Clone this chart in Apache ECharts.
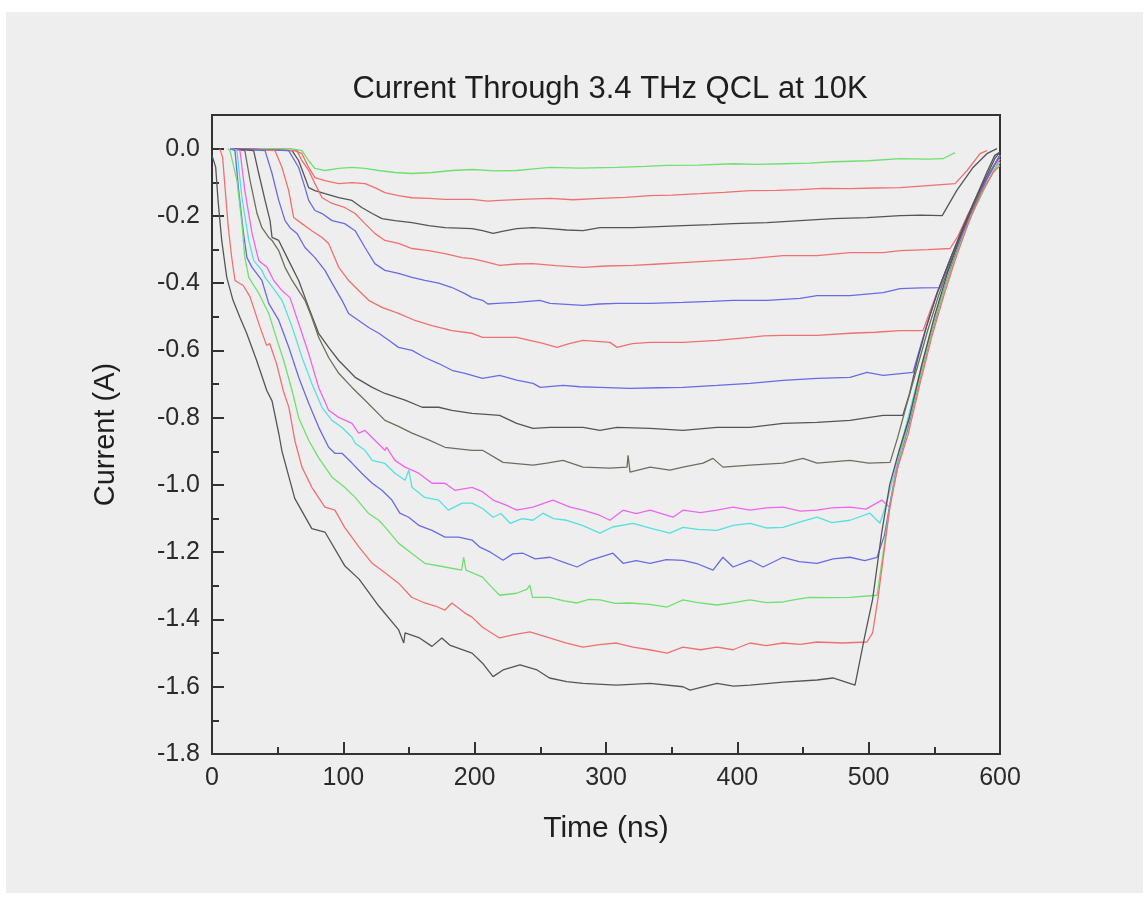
<!DOCTYPE html>
<html>
<head>
<meta charset="utf-8">
<script src="https://cdn.jsdelivr.net/npm/echarts@6/dist/echarts.min.js"></script>
<style>
html,body{margin:0;padding:0;background:#ffffff;}
#panel{position:absolute;left:6px;top:12px;width:1137px;height:881px;background:#eeeeee;}
#chart{position:absolute;left:0;top:0;width:1148px;height:897px;}
</style>
</head>
<body>
<div id="panel"></div>
<div id="chart"></div>
<script>
// ---- data: [time (ns), current (A)] ----
const titleText = 'Current Through 3.4 THz QCL at 10K';
const xName = 'Time (ns)';
const yName = 'Current (A)';
const xTicks = [0, 100, 200, 300, 400, 500, 600];
const yTicks = [-1.8, -1.6, -1.4, -1.2, -1.0, -0.8, -0.6, -0.4, -0.2, 0.0];

const curve01 = [[14,0],[60,0],[68.5,-0.006],[73.6,-0.036],[78.4,-0.059],[86,-0.065],[96.5,-0.059],[106.6,-0.056],[116.5,-0.059],[127,-0.065],[139.3,-0.071],[152.3,-0.074],[167.5,-0.071],[182.7,-0.065],[198,-0.062],[215,-0.066],[232,-0.065],[245,-0.060],[257.4,-0.056],[280,-0.058],[308.4,-0.056],[330,-0.053],[346.5,-0.050],[370,-0.049],[396.7,-0.045],[415,-0.047],[434.8,-0.045],[455,-0.043],[472.8,-0.039],[500,-0.036],[524,-0.030],[545,-0.031],[556.6,-0.030],[565.8,-0.012]];
const curve02 = [[14,0],[63,-0.006],[68.5,-0.015],[73.6,-0.056],[78.4,-0.086],[86,-0.095],[96.5,-0.104],[106.6,-0.101],[116.5,-0.104],[124,-0.116],[131.7,-0.131],[142,-0.140],[152.3,-0.146],[165,-0.148],[177.4,-0.151],[198,-0.151],[210,-0.156],[219,-0.154],[240,-0.150],[257.4,-0.148],[275,-0.152],[295.4,-0.148],[315,-0.145],[333.5,-0.140],[350,-0.138],[371.6,-0.134],[390,-0.130],[409.7,-0.125],[430,-0.124],[447.7,-0.122],[465,-0.118],[485.8,-0.119],[505,-0.117],[524,-0.116],[545,-0.110],[565.8,-0.104],[575,-0.065],[584.8,-0.015],[590,-0.006]];
const curve03 = [[14,0],[61,-0.006],[66,-0.036],[70.8,-0.086],[73.6,-0.116],[78.4,-0.125],[86,-0.134],[96.5,-0.146],[106.6,-0.154],[114,-0.175],[122,-0.193],[129.4,-0.208],[139.3,-0.214],[152.3,-0.220],[165,-0.229],[177.4,-0.235],[198,-0.238],[206,-0.244],[214,-0.252],[222,-0.245],[232,-0.238],[244.4,-0.235],[257.4,-0.238],[270,-0.242],[282.5,-0.244],[295.4,-0.235],[320.6,-0.235],[340,-0.232],[358.6,-0.229],[380,-0.226],[396.7,-0.223],[422.6,-0.220],[447.7,-0.214],[472.8,-0.208],[498.7,-0.205],[524,-0.199],[540,-0.198],[556,-0.199],[567,-0.125],[579.5,-0.056],[590,-0.015],[597.7,0]];
const curve04 = [[14,0],[64.7,-0.006],[68.5,-0.036],[73.6,-0.065],[78.4,-0.104],[83.8,-0.146],[91.4,-0.163],[101,-0.175],[109,-0.193],[116.5,-0.223],[124,-0.252],[131.7,-0.273],[142,-0.282],[152.3,-0.297],[165,-0.303],[177.4,-0.312],[190.4,-0.324],[198,-0.327],[208,-0.336],[219,-0.347],[232,-0.343],[244.4,-0.342],[262,-0.348],[282.5,-0.353],[300,-0.349],[320.6,-0.347],[340,-0.343],[358.6,-0.339],[384.5,-0.333],[409.7,-0.327],[434.8,-0.318],[460.7,-0.318],[485.8,-0.309],[511,-0.309],[524,-0.303],[545,-0.300],[562,-0.297],[568,-0.26],[575,-0.20],[583,-0.14],[591,-0.08],[597,-0.04],[600,-0.02]];
const curve05 = [[14,0],[58.4,-0.006],[66,-0.056],[70.8,-0.116],[73.6,-0.154],[78.4,-0.184],[83.8,-0.193],[91.4,-0.214],[101,-0.223],[109,-0.244],[116.5,-0.294],[124,-0.342],[131.7,-0.362],[142,-0.371],[152.3,-0.383],[162,-0.392],[172.6,-0.400],[182.7,-0.413],[192.6,-0.431],[198,-0.443],[206,-0.451],[210,-0.462],[217,-0.460],[232,-0.457],[249.7,-0.451],[257.4,-0.460],[270,-0.463],[282.5,-0.466],[295,-0.462],[308.4,-0.460],[333.5,-0.460],[358.6,-0.457],[380,-0.454],[396.7,-0.451],[422.6,-0.451],[447.7,-0.445],[460.7,-0.437],[485.8,-0.437],[511,-0.428],[524,-0.416],[540,-0.414],[554.3,-0.413],[559,-0.36],[566,-0.29],[574,-0.22],[583,-0.14],[591,-0.08],[597,-0.04],[600,-0.02]];
const curve06 = [[14,0],[48,-0.006],[53.3,-0.056],[58.4,-0.125],[62.2,-0.205],[68.5,-0.223],[76,-0.244],[83.8,-0.264],[88.8,-0.282],[96.5,-0.353],[104,-0.392],[111.7,-0.422],[119.3,-0.451],[129.4,-0.472],[142,-0.490],[154.6,-0.511],[167.5,-0.526],[182.7,-0.541],[198,-0.549],[206,-0.561],[232,-0.561],[242,-0.570],[252,-0.579],[262.7,-0.591],[272,-0.580],[282.5,-0.570],[303,-0.576],[308.4,-0.591],[320,-0.580],[333.5,-0.576],[358.6,-0.576],[384.5,-0.570],[409.7,-0.561],[420,-0.557],[434.8,-0.555],[460.7,-0.555],[485.8,-0.549],[505,-0.546],[523.9,-0.541],[541.4,-0.541],[548,-0.47],[555,-0.40],[563,-0.32],[572,-0.24],[581,-0.16],[590,-0.09],[597,-0.04],[600,-0.02]];
const curve07 = [[14,0],[40.4,-0.006],[45.7,-0.074],[50.8,-0.154],[55.6,-0.214],[59.4,-0.235],[64.7,-0.252],[70.8,-0.294],[78.4,-0.324],[86,-0.362],[91.4,-0.400],[99,-0.451],[104,-0.490],[111.7,-0.511],[119.3,-0.532],[127,-0.549],[134.6,-0.570],[142,-0.591],[152.3,-0.600],[162,-0.621],[172.6,-0.639],[182.7,-0.659],[192.6,-0.668],[206,-0.683],[219,-0.674],[232,-0.688],[244.4,-0.698],[250,-0.710],[267.3,-0.704],[280,-0.708],[295.4,-0.710],[318.3,-0.713],[340,-0.711],[358.6,-0.710],[384.5,-0.704],[409.7,-0.698],[434.8,-0.689],[460.7,-0.683],[485.8,-0.680],[498.7,-0.665],[511,-0.674],[533.8,-0.665],[540,-0.58],[547,-0.49],[555,-0.40],[563,-0.32],[572,-0.24],[581,-0.16],[590,-0.09],[597,-0.04],[600,-0.02]];
const curve08 = [[14,0],[31.7,-0.006],[35.6,-0.074],[40.4,-0.154],[44.2,-0.214],[45.7,-0.264],[50.8,-0.273],[58.4,-0.333],[66,-0.392],[73.6,-0.472],[81.2,-0.549],[88.8,-0.591],[96.5,-0.630],[109,-0.680],[122,-0.710],[131.7,-0.728],[147,-0.748],[160,-0.769],[172.6,-0.769],[182.7,-0.778],[198,-0.787],[219,-0.793],[232,-0.817],[244.4,-0.832],[257.4,-0.829],[282.5,-0.829],[295.4,-0.838],[308.4,-0.829],[333.5,-0.832],[358.6,-0.838],[384.5,-0.829],[409.7,-0.829],[434.8,-0.817],[460.7,-0.814],[485.8,-0.808],[511,-0.793],[526,-0.793],[531,-0.73],[537,-0.63],[544,-0.53],[552,-0.43],[561,-0.34],[570,-0.25],[580,-0.16],[590,-0.08],[596,-0.03],[600,-0.01]];
const curve09 = [[14,0],[25,-0.006],[29,-0.095],[34.3,-0.193],[38,-0.235],[43.2,-0.264],[45.7,-0.273],[50.8,-0.303],[55.6,-0.353],[61,-0.392],[66,-0.422],[70.8,-0.451],[76,-0.502],[81.2,-0.561],[88.8,-0.621],[96.5,-0.668],[106.6,-0.710],[116.5,-0.748],[131.7,-0.808],[142,-0.826],[152.3,-0.846],[165,-0.866],[177.4,-0.888],[198,-0.897],[206,-0.897],[221.6,-0.933],[244.4,-0.941],[255,-0.935],[267.3,-0.927],[282.5,-0.947],[303,-0.950],[316,-0.947],[316.8,-0.912],[318.3,-0.962],[333.5,-0.947],[348.7,-0.956],[358.6,-0.947],[373.9,-0.935],[381.5,-0.921],[389,-0.947],[409.7,-0.941],[434.8,-0.935],[450,-0.921],[460.7,-0.935],[485.8,-0.927],[500,-0.935],[516.3,-0.933],[522,-0.86],[529,-0.76],[537,-0.65],[545,-0.54],[553,-0.44],[562,-0.34],[571,-0.25],[581,-0.16],[590,-0.09],[597,-0.04],[600,-0.02]];
const curve10 = [[14,0],[21.3,-0.006],[25,-0.125],[30.5,-0.252],[35.6,-0.333],[41.9,-0.353],[47,-0.392],[53.3,-0.422],[59.4,-0.443],[66,-0.520],[73.6,-0.609],[81.2,-0.710],[88.8,-0.778],[96.5,-0.799],[106.6,-0.817],[111.7,-0.846],[116.5,-0.838],[124,-0.867],[131.7,-0.897],[133,-0.888],[139.3,-0.927],[147,-0.947],[157.4,-0.965],[167.5,-0.995],[177.4,-0.995],[185,-1.016],[198,-1.007],[206,-1.020],[214,-1.045],[224,-1.060],[232,-1.075],[244.4,-1.066],[259.6,-1.045],[272.6,-1.066],[282.5,-1.075],[295,-1.090],[303,-1.105],[313,-1.075],[323,-1.085],[333.5,-1.075],[351,-1.096],[358.6,-1.075],[372,-1.082],[384.5,-1.075],[396.7,-1.066],[409.7,-1.075],[422,-1.068],[434.8,-1.066],[448,-1.078],[460.7,-1.075],[472,-1.068],[485.8,-1.066],[498,-1.072],[510,-1.045],[516,-1.066],[520,-0.97],[527,-0.85],[535,-0.73],[543,-0.61],[552,-0.49],[560,-0.39],[569,-0.29],[579,-0.19],[589,-0.11],[596,-0.06],[600,-0.03]];
const curve11 = [[14,0],[19,-0.006],[22.8,-0.146],[28,-0.273],[31.8,-0.333],[38,-0.362],[40.4,-0.383],[48,-0.422],[53.3,-0.451],[61,-0.530],[68.5,-0.620],[76,-0.698],[83.8,-0.770],[91.4,-0.808],[99,-0.829],[106.6,-0.858],[109,-0.876],[116.5,-0.897],[122,-0.927],[131.7,-0.936],[139.3,-0.965],[147,-0.986],[149.8,-0.956],[152.3,-1.007],[162,-1.037],[172.6,-1.045],[180,-1.075],[190.4,-1.054],[198,-1.054],[206,-1.070],[214,-1.096],[220,-1.085],[227,-1.114],[236,-1.100],[244.4,-1.105],[252,-1.084],[260,-1.100],[270,-1.105],[282,-1.120],[295.4,-1.143],[305,-1.125],[320.6,-1.114],[335,-1.130],[348.7,-1.143],[358.6,-1.126],[370,-1.132],[384.5,-1.135],[397,-1.120],[409.7,-1.114],[422,-1.128],[434.8,-1.126],[448,-1.110],[460.7,-1.096],[472,-1.112],[485.8,-1.105],[501,-1.084],[508.6,-1.114],[514,-1.05],[519,-0.97],[526,-0.86],[534,-0.74],[542,-0.62],[551,-0.50],[559,-0.40],[568,-0.30],[578,-0.20],[588,-0.12],[596,-0.06],[600,-0.04]];
const curve12 = [[14,0],[17.5,-0.006],[20.3,-0.125],[24,-0.252],[26.6,-0.324],[30.5,-0.353],[38,-0.392],[43.2,-0.460],[50.8,-0.510],[58.4,-0.590],[66,-0.680],[73.6,-0.757],[81.2,-0.828],[88.8,-0.888],[93.6,-0.906],[99,-0.906],[106.6,-0.935],[114,-0.965],[122,-0.995],[129.4,-1.016],[137,-1.045],[143,-1.084],[149.8,-1.096],[157.4,-1.120],[167.5,-1.135],[177.4,-1.155],[187.8,-1.155],[198,-1.164],[204,-1.185],[212,-1.200],[221.6,-1.224],[229,-1.205],[236.8,-1.203],[246,-1.220],[257.4,-1.215],[268,-1.230],[278,-1.244],[287.8,-1.224],[305.3,-1.203],[313,-1.233],[323,-1.225],[333.5,-1.233],[346,-1.222],[358.6,-1.224],[370,-1.235],[381.5,-1.253],[389,-1.215],[396.7,-1.244],[409.7,-1.224],[419.6,-1.244],[434.8,-1.215],[447,-1.228],[460.7,-1.233],[473,-1.220],[485.8,-1.215],[497,-1.225],[506.4,-1.215],[512,-1.15],[517,-1.04],[523,-0.93],[530,-0.83],[538,-0.70],[547,-0.56],[555,-0.45],[563,-0.35],[572,-0.25],[582,-0.16],[591,-0.08],[597,-0.04],[600,-0.02]];
const curve13 = [[12,0],[13.7,-0.006],[19,-0.095],[22.8,-0.223],[25,-0.324],[28,-0.383],[35.6,-0.430],[43.2,-0.490],[48,-0.550],[54.6,-0.630],[61,-0.720],[66,-0.800],[73.6,-0.867],[81,-0.918],[91.4,-0.977],[101,-1.007],[109,-1.037],[119,-1.084],[127,-1.105],[132,-1.126],[142,-1.173],[152,-1.203],[162,-1.233],[177.4,-1.244],[190,-1.253],[191.6,-1.215],[193.4,-1.253],[206,-1.274],[212,-1.300],[219,-1.328],[232,-1.322],[240,-1.310],[242,-1.298],[244,-1.334],[257,-1.334],[268,-1.345],[278,-1.351],[287,-1.340],[295.4,-1.342],[307,-1.352],[318,-1.351],[333,-1.355],[346.5,-1.363],[358.6,-1.342],[370,-1.350],[384.5,-1.357],[397,-1.350],[409.7,-1.342],[422,-1.350],[434.8,-1.348],[445,-1.340],[455,-1.334],[470,-1.335],[485.8,-1.334],[506.4,-1.328],[510,-1.23],[514,-1.12],[519,-1.00],[526,-0.88],[534,-0.76],[543,-0.62],[551,-0.50],[560,-0.39],[569,-0.29],[578,-0.20],[588,-0.12],[596,-0.06],[600,-0.04]];
const curve14 = [[6,0],[8.1,-0.026],[9.9,-0.115],[12.4,-0.234],[15,-0.323],[17.5,-0.392],[23.8,-0.407],[28.9,-0.440],[36.5,-0.530],[41.6,-0.585],[44,-0.580],[49.2,-0.640],[54.3,-0.720],[58.6,-0.770],[63,-0.867],[68.5,-0.947],[76,-1.007],[86,-1.066],[93.6,-1.075],[101,-1.126],[112,-1.185],[122,-1.233],[132,-1.262],[142,-1.292],[152,-1.334],[162,-1.351],[170,-1.360],[177.4,-1.372],[182.7,-1.351],[192.6,-1.381],[198,-1.393],[206,-1.423],[219,-1.455],[230,-1.445],[242,-1.437],[257,-1.455],[270,-1.470],[282.5,-1.482],[295,-1.475],[308,-1.470],[320.6,-1.482],[333,-1.490],[346.5,-1.500],[358.6,-1.482],[372,-1.490],[384.5,-1.482],[396.7,-1.490],[409.7,-1.470],[422,-1.478],[434.8,-1.470],[448,-1.474],[460.7,-1.467],[480,-1.470],[498.7,-1.467],[503,-1.44],[507,-1.34],[511,-1.22],[516,-1.07],[522,-0.95],[530,-0.85],[539,-0.70],[548,-0.56],[557,-0.44],[566,-0.33],[576,-0.22],[586,-0.13],[595,-0.07],[600,-0.05]];
const curve15 = [[0,-0.02],[2.8,-0.055],[4.6,-0.154],[7.4,-0.273],[11.2,-0.382],[16,-0.451],[21.3,-0.502],[26.4,-0.549],[34,-0.630],[41.7,-0.719],[45.7,-0.750],[51,-0.850],[53.3,-0.900],[63,-1.040],[76,-1.130],[86,-1.140],[101,-1.240],[112,-1.280],[127,-1.360],[142,-1.430],[146,-1.470],[147,-1.440],[158,-1.455],[167.5,-1.480],[175,-1.455],[181,-1.476],[198,-1.500],[206,-1.530],[214,-1.570],[221.6,-1.550],[234.5,-1.535],[247.5,-1.550],[257,-1.574],[270,-1.585],[282.5,-1.590],[308,-1.595],[333.5,-1.590],[358.6,-1.600],[364,-1.610],[384.5,-1.590],[397,-1.598],[409.7,-1.595],[434.8,-1.586],[460.7,-1.580],[472.8,-1.574],[489.6,-1.595],[497,-1.45],[503,-1.34],[510,-1.14],[516,-1.00],[523,-0.90],[531,-0.80],[540,-0.65],[550,-0.50],[560,-0.37],[570,-0.26],[580,-0.16],[590,-0.07],[596,-0.02],[600,-0.01]];

const curves = [curve01, curve02, curve03, curve04, curve05, curve06, curve07, curve08, curve09, curve10, curve11, curve12, curve13, curve14, curve15];

// ---- styles ----
const C_GREEN = '#6ee06e', C_RED = '#f07070', C_BLACK = '#555555', C_BLUE = '#6a6ae6',
      C_OLIVE = '#6e6e5e', C_MAGENTA = '#ee66ee', C_CYAN = '#55e0e0';
const curveColors = [C_GREEN, C_RED, C_BLACK, C_RED, C_BLUE, C_RED, C_BLUE, C_BLACK, C_OLIVE, C_MAGENTA, C_CYAN, C_BLUE, C_GREEN, C_RED, C_BLACK];

const FONT = "'Liberation Sans', Arial, Helvetica, sans-serif";
const AX = '#333333';

const chart = echarts.init(document.getElementById('chart'), null, {renderer: 'canvas'});
const option = {
  animation: false,
  backgroundColor: 'transparent',
  title: {
    text: titleText, left: 605, top: 69, textAlign: 'center',
    textStyle: {fontSize: 31, fontWeight: 'normal', color: '#1e1e1e', fontFamily: FONT}
  },
  grid: {left: 212, right: 148, top: 115, bottom: 143, show: true, borderColor: AX, borderWidth: 2, backgroundColor: 'transparent'},
  xAxis: {
    type: 'value', min: xTicks[0], max: xTicks[xTicks.length - 1], interval: 100,
    name: xName, nameLocation: 'middle', nameGap: 60,
    nameTextStyle: {fontSize: 30, color: '#1e1e1e', fontFamily: FONT},
    axisLine: {show: true, onZero: false, lineStyle: {color: AX, width: 2}},
    axisTick: {show: true, inside: true, length: 12, lineStyle: {color: AX, width: 2}},
    minorTick: {show: true, splitNumber: 2, length: 7, lineStyle: {color: AX, width: 2}},
    splitLine: {show: false}, minorSplitLine: {show: false},
    axisLabel: {fontSize: 25, color: '#2a2a2a', margin: 12, fontFamily: FONT, formatter: v => String(Math.round(v))}
  },
  yAxis: [{
    type: 'value', min: yTicks[0], max: 0.1, interval: 0.2,
    name: yName, nameLocation: 'middle', nameGap: 92, nameRotate: 90,
    nameTextStyle: {fontSize: 29, color: '#1e1e1e', fontFamily: FONT},
    axisLine: {show: true, onZero: false, lineStyle: {color: AX, width: 2}},
    axisTick: {show: true, inside: true, length: 12, lineStyle: {color: AX, width: 2}},
    splitLine: {show: false},
    axisLabel: {fontSize: 25, color: '#2a2a2a', margin: 12, fontFamily: FONT, showMaxLabel: false,
      formatter: v => (v > 0.05 ? '' : (Math.abs(v) < 1e-9 ? '0.0' : v.toFixed(1)))}
  }, {
    type: 'value', min: yTicks[0], max: 0.1, interval: 0.1, position: 'left', offset: 0,
    axisLine: {show: false},
    axisTick: {show: true, inside: true, length: 7, lineStyle: {color: AX, width: 2}},
    splitLine: {show: false},
    axisLabel: {show: false}
  }],
  series: curves.map((d, i) => ({
    type: 'line', data: d, yAxisIndex: 0, symbol: 'none', showSymbol: false,
    lineStyle: {color: curveColors[i], width: 1.3}, z: 2 + i
  }))
};
chart.setOption(option);
</script>
</body>
</html>
